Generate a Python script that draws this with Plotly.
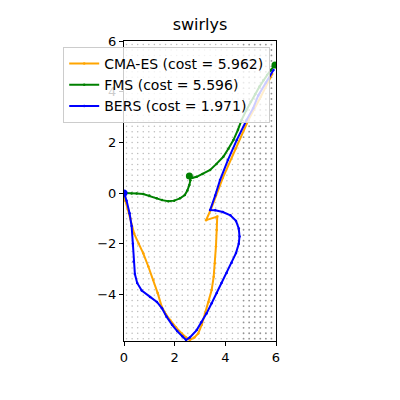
import numpy as np
import plotly.graph_objects as go

title = "swirlys"
x_ticks = [0, 2, 4, 6]
y_ticks = [-4, -2, 0, 2, 4, 6]

cma_x = [0.0, 0.05, 0.15, 0.25, 0.4, 0.58, 0.76, 0.96, 1.16, 1.33, 1.49, 1.65, 1.82, 2.05, 2.28, 2.45, 2.6, 2.78, 2.93, 3.07, 3.2, 3.34, 3.46, 3.54, 3.59, 3.63, 3.66, 3.68, 3.24, 3.42, 3.9, 4.4, 4.91, 5.4, 5.85]
cma_y = [0.0, -0.3, -0.65, -1.0, -1.6, -2.0, -2.38, -2.9, -3.43, -3.95, -4.49, -4.78, -5.01, -5.3, -5.54, -5.7, -5.8, -5.7, -5.54, -5.2, -4.75, -4.3, -3.83, -3.3, -2.77, -2.1, -1.46, -0.93, -1.07, -0.67, 0.6, 1.75, 2.88, 3.8, 4.7]

fms_x = [2.58, 2.62, 2.58, 2.5, 2.4, 2.21, 1.98, 1.75, 1.5, 1.29, 1.0, 0.76, 0.5, 0.3, 0.1, 0.0]
fms_y = [0.67, 0.5, 0.32, 0.1, -0.08, -0.21, -0.3, -0.32, -0.28, -0.21, -0.1, -0.04, -0.02, -0.02, 0.0, 0.0]
fms2_x = [2.58, 2.7, 2.87, 3.1, 3.4, 3.65, 3.92, 4.12, 4.32, 4.5, 4.64, 4.82, 5.0, 5.18, 5.35, 5.5, 5.65, 5.8, 5.96]
fms2_y = [0.67, 0.6, 0.64, 0.75, 0.91, 1.15, 1.43, 1.75, 2.09, 2.5, 2.88, 3.25, 3.6, 3.9, 4.2, 4.45, 4.66, 4.86, 5.05]

bers_x = [0.0, 0.1, 0.22, 0.3, 0.35, 0.38, 0.43, 0.52, 0.7, 1.03, 1.3, 1.5, 1.68, 1.9, 2.1, 2.3, 2.45, 2.6, 2.87, 3.05, 3.26, 3.46, 3.66, 3.85, 4.05, 4.25, 4.42, 4.53, 4.56, 4.53, 4.42, 4.2, 3.9, 3.6, 3.4, 3.6, 3.79, 4.1, 4.45, 4.84, 5.1, 5.3, 5.6, 5.9]
bers_y = [0.0, -0.3, -0.8, -1.3, -2.0, -2.7, -3.2, -3.55, -3.85, -4.1, -4.3, -4.55, -4.88, -5.2, -5.45, -5.65, -5.8, -5.7, -5.41, -5.1, -4.75, -4.35, -3.95, -3.55, -3.16, -2.75, -2.37, -2.0, -1.72, -1.4, -1.1, -0.88, -0.75, -0.68, -0.67, -0.1, 0.51, 1.3, 2.09, 2.88, 3.35, 3.85, 4.35, 4.86]

grid_x = np.arange(0.1, 6.0, 0.22)
grid_y = np.arange(-5.75, 6.0, 0.215)

fig = go.Figure()

gx, gy = np.meshgrid(grid_x, grid_y)
gx = gx.ravel(); gy = gy.ravel()
left = gx < 4.6
fig.add_trace(go.Scatter(x=gx[left], y=gy[left], mode="markers", showlegend=False, hoverinfo="skip",
                         marker=dict(size=1.5, color="rgba(60,60,60,0.35)", line=dict(width=0))))
fig.add_trace(go.Scatter(x=gx[~left], y=gy[~left], mode="markers", showlegend=False, hoverinfo="skip",
                         marker=dict(size=1.8, color="rgba(40,40,40,0.5)", line=dict(width=0))))

fig.add_trace(go.Scatter(x=cma_x, y=cma_y, mode="lines+markers", name="CMA-ES (cost = 5.962)",
                         line=dict(color="orange", width=2), marker=dict(size=2.5, color="orange")))
fig.add_trace(go.Scatter(x=fms_x, y=fms_y, mode="lines+markers", name="FMS (cost = 5.596)",
                         line=dict(color="green", width=2), marker=dict(size=2.5, color="green"),
                         legendgroup="fms"))
fig.add_trace(go.Scatter(x=fms2_x, y=fms2_y, mode="lines+markers", showlegend=False,
                         line=dict(color="green", width=2), marker=dict(size=2.5, color="green"),
                         legendgroup="fms"))
fig.add_trace(go.Scatter(x=[fms2_x[0], fms2_x[-1]], y=[fms2_y[0], fms2_y[-1]], mode="markers",
                         showlegend=False, marker=dict(size=7, color="green")))
fig.add_trace(go.Scatter(x=bers_x, y=bers_y, mode="lines+markers", name="BERS (cost = 1.971)",
                         line=dict(color="blue", width=2), marker=dict(size=2.5, color="blue")))
fig.add_trace(go.Scatter(x=[bers_x[0]], y=[bers_y[0]], mode="markers", showlegend=False,
                         marker=dict(size=7, color="blue")))

axis_common = dict(showgrid=False, zeroline=False, showline=True, linecolor="black", linewidth=1,
                   mirror=True, ticks="outside", ticklen=4, tickcolor="black",
                   tickfont=dict(family="DejaVu Sans", size=13, color="black"))
fig.update_xaxes(range=[0, 6], tickvals=x_ticks, **axis_common)
fig.update_yaxes(range=[-5.84, 6], tickvals=y_ticks, **axis_common)

fig.update_layout(
    width=400, height=400,
    margin=dict(l=124, r=124, t=41, b=59),
    paper_bgcolor="white", plot_bgcolor="white",
    title=dict(text=title, x=0.5, xanchor="center", y=1 - 24/400, yanchor="middle",
               font=dict(family="DejaVu Sans", size=16, color="black")),
    legend=dict(x=-0.40, y=0.98, xanchor="left", yanchor="top",
                bgcolor="rgba(255,255,255,0.8)", bordercolor="#cccccc", borderwidth=1,
                font=dict(family="DejaVu Sans", size=14, color="black"),
                tracegroupgap=0, itemwidth=30),
)

fig.write_html("out.html")
